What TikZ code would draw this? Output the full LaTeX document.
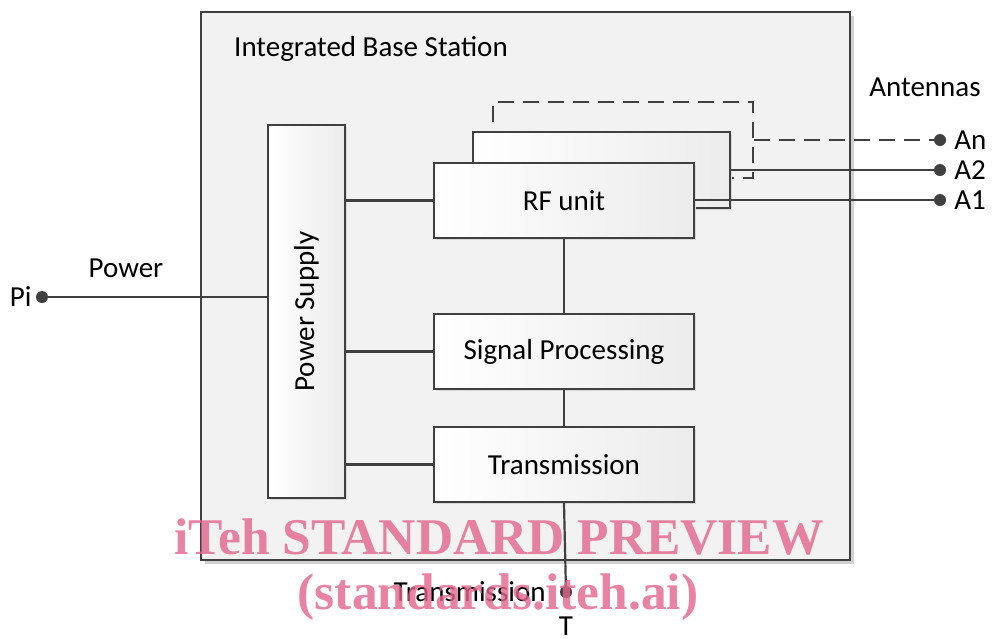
\documentclass[tikz,border=0pt]{standalone}
\usepackage{fontspec}
\setmainfont{Carlito}
\newfontfamily\wmfont{Liberation Serif}
\usetikzlibrary{shadows}
\definecolor{linegray}{RGB}{64,64,64}
\definecolor{boxgray}{RGB}{242,242,242}
\definecolor{shadegray}{RGB}{236,236,236}
\definecolor{wmpink}{RGB}{226,100,140}
\tikzset{
  x=1pt,y=-1pt,
  lbl/.style={font=\fontsize{29}{33}\selectfont,text=black,inner sep=0pt},
  basebox/.style={shape=rectangle,draw=linegray,line width=2pt,fill=boxgray,drop shadow={shadow xshift=4pt,shadow yshift=-4pt,fill=black!18,opacity=1}},
  unitbox/.style={shape=rectangle,draw=linegray,line width=2pt,left color=white,right color=shadegray,drop shadow={shadow xshift=2pt,shadow yshift=-2pt,fill=black!15,opacity=1}},
  wire/.style={draw=linegray,line width=2.2pt},
  dashwire/.style={wire,dash pattern=on 16pt off 9pt},
  dot/.style={shape=circle,fill=linegray,minimum size=12pt,inner sep=0pt},
  wm/.style={font=\wmfont\bfseries\fontsize{51.5}{56}\selectfont,text=wmpink,text opacity=0.8,inner sep=0pt}
}
\begin{document}
\begin{tikzpicture}
\useasboundingbox (0,0) rectangle (997,638);

% outer frame
\path (525.5,286) node [basebox,minimum width=649pt,minimum height=548pt] (ibs) {};
\path (234,49) node [lbl,anchor=west] (ibstitle) {Integrated Base Station};

% power supply
\path (306.5,311.5) node [unitbox,minimum width=77pt,minimum height=373pt] (psu) {};
\path (psu.center) node [lbl,rotate=90] (psutext) {Power Supply};

% rf unit stack
\path (623,140) node [shape=rectangle,draw=linegray,line width=2pt,dash pattern=on 16pt off 9pt,minimum width=260pt,minimum height=76pt] (rf3) {};
\path (601.5,170) node [unitbox,minimum width=257pt,minimum height=76pt] (rf2) {};
\path (564,200.5) node [unitbox,minimum width=260pt,minimum height=75pt] (rf) {};
\path (rf) node [lbl] (rftext) {RF unit};

% processing chain
\path (564,351.5) node [unitbox,minimum width=260pt,minimum height=75pt] (sp) {};
\path (sp) node [lbl] (sptext) {Signal Processing};
\path (564,464.5) node [unitbox,minimum width=260pt,minimum height=75pt] (tx) {};
\path (tx) node [lbl] (txboxtext) {Transmission};

% internal wiring
\draw [wire] (rf.west) -- (rf.west -| psu.east);
\draw [wire] (sp.west) -- (sp.west -| psu.east);
\draw [wire] (tx.west) -- (tx.west -| psu.east);
\draw [wire] (rf.south) -- (sp.north);
\draw [wire] (sp.south) -- (tx.north);

% power input
\path (42,297) node [dot] (pi) {};
\path (pi.west) node [lbl,anchor=east,xshift=-4pt] (pitext) {Pi};
\path (126,268) node [lbl] (powertext) {Power};
\draw [wire] (pi) -- (pi -| psu.west);

% transmission port
\path (566,592) node [dot] (tport) {};
\draw [wire] (tx.south) -- (tport);
\path (tport.west) node [lbl,anchor=east,xshift=-14pt] (txtext) {Transmission};
\path (566,626) node [lbl] (ttext) {T};

% antennas
\path (925,87) node [lbl] (anttext) {Antennas};
\path (940,140) node [dot] (an) {};
\path (940,170) node [dot] (a2) {};
\path (940,200) node [dot] (a1) {};
\draw [dashwire] (an -| rf3.east) -- (an);
\draw [wire] (a2 -| rf2.east) -- (a2);
\draw [wire] (a1 -| rf.east) -- (a1);
\path (an.east) node [lbl,anchor=west,xshift=8pt] (antext) {An};
\path (a2.east) node [lbl,anchor=west,xshift=8pt] (a2text) {A2};
\path (a1.east) node [lbl,anchor=west,xshift=8pt] (a1text) {A1};

% watermark
\path (499,537) node [wm] (wm1) {iTeh STANDARD PREVIEW};
\path (498,597) node [wm] (wm2) {(standards.iteh.ai)};
\end{tikzpicture}
\end{document}
